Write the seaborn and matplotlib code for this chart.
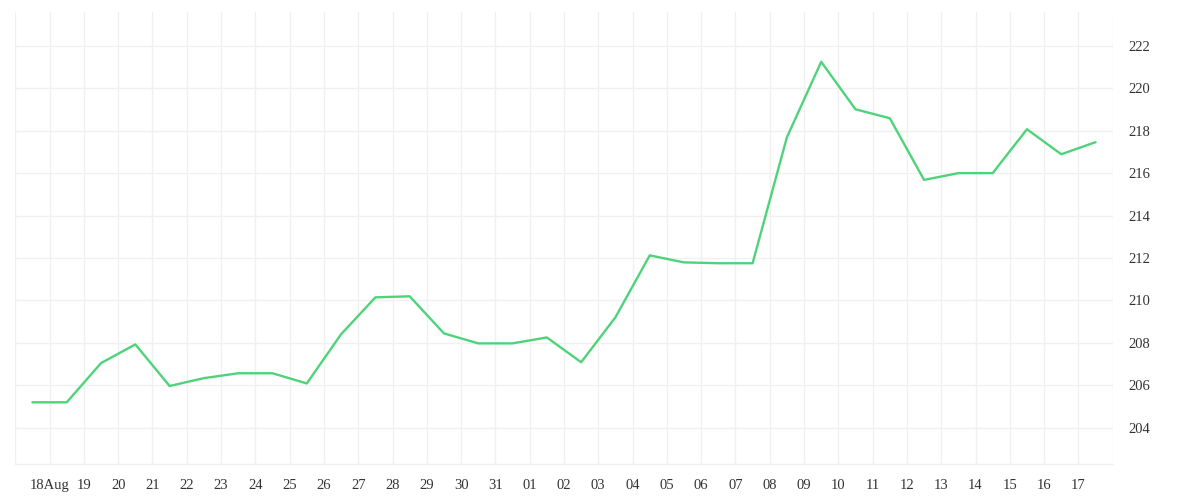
import matplotlib
matplotlib.use("Agg")
import matplotlib.pyplot as plt
import seaborn as sns
import pandas as pd

# daily values, sampled at noon of each day
start_day = "2023-08-17 12:00"
prices = [205.19, 205.19, 207.04, 207.92, 205.96, 206.33, 206.56, 206.56,
          206.08, 208.40, 210.14, 210.19, 208.44, 207.97, 207.97, 208.25,
          207.08, 209.20, 212.12, 211.79, 211.75, 211.75, 217.69, 221.25,
          219.01, 218.59, 215.68, 216.00, 216.00, 218.07, 216.89, 217.46]
tick_labels = ["", "18Aug", "19", "20", "21", "22", "23", "24", "25", "26",
               "27", "28", "29", "30", "31", "01", "02", "03", "04", "05",
               "06", "07", "08", "09", "10", "11", "12", "13", "14", "15",
               "16", "17", ""]
y_ticks = [204, 206, 208, 210, 212, 214, 216, 218, 220, 222]

grid_col = "#f0f0f0"
line_col = "#4fd37a"
text_col = "#333333"

df = pd.DataFrame({
    "date": pd.date_range(start_day, periods=len(prices), freq="D"),
    "price": prices,
})
tick_dates = pd.date_range("2023-08-17", periods=len(tick_labels), freq="D")

sns.set_theme(style="white")
plt.rcParams["font.family"] = ["Liberation Serif", "DejaVu Serif"]

fig = plt.figure(figsize=(12, 5), dpi=100)
ax = fig.add_axes([0.01275, 0.072, 0.9145, 0.904])

sns.lineplot(data=df, x="date", y="price", ax=ax, color=line_col, linewidth=1.7)

ax.set_xlim(tick_dates[0], tick_dates[-1])
ax.set_ylim(202.28, 223.6)
ax.set_xticks(tick_dates)
ax.set_xticklabels(tick_labels)
ax.set_yticks(y_ticks)
ax.set_yticklabels([str(v) for v in y_ticks])

ax.yaxis.tick_right()
ax.grid(True, color=grid_col, linewidth=1)
ax.tick_params(axis="x", length=8.5, width=1, color=grid_col, pad=2,
               labelsize=10.5, labelcolor=text_col)
ax.tick_params(axis="y", length=0, pad=11, labelsize=10.5, labelcolor=text_col)

for side in ["top", "left", "right"]:
    ax.spines[side].set_visible(False)
ax.spines["bottom"].set_color(grid_col)
ax.spines["bottom"].set_linewidth(1)

ax.set_xlabel("")
ax.set_ylabel("")

fig.savefig("out.png", dpi=100)
